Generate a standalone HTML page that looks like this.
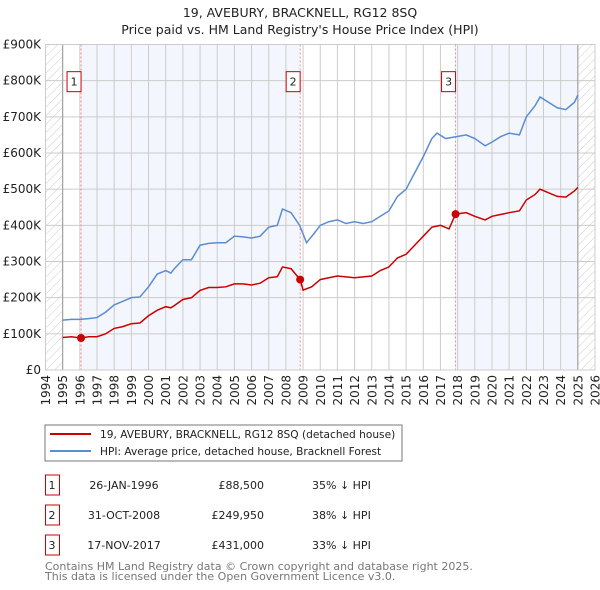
<!DOCTYPE html>
<html><head><meta charset="utf-8"><style>
body{margin:0;background:#fff;width:600px;height:590px;overflow:hidden;font-family:"DejaVu Sans","Liberation Sans",sans-serif}
svg{position:absolute;left:0;top:0}
</style></head><body>
<svg id="c" width="600" height="590" font-family="DejaVu Sans, Liberation Sans, sans-serif">
<defs><pattern id="hatch" width="6" height="6" patternUnits="userSpaceOnUse" patternTransform="rotate(45)"><line x1="0" y1="0" x2="0" y2="6" stroke="#ccc" stroke-width="1"/></pattern></defs>
<text x="300" y="17" text-anchor="middle" font-size="12.5" fill="#222">19, AVEBURY, BRACKNELL, RG12 8SQ</text>
<text x="300" y="34" text-anchor="middle" font-size="12.5" fill="#222">Price paid vs. HM Land Registry's House Price Index (HPI)</text>
<g id="plot"></g>
<rect x="45" y="425" width="357" height="36" fill="#fff" stroke="#777"/>
<line x1="50" y1="434" x2="91" y2="434" stroke="#cc0000" stroke-width="2"/>
<text x="100" y="438" font-size="10.6" fill="#222">19, AVEBURY, BRACKNELL, RG12 8SQ (detached house)</text>
<line x1="50" y1="451" x2="91" y2="451" stroke="#5b8dd0" stroke-width="2"/>
<text x="100" y="455" font-size="10.6" fill="#222">HPI: Average price, detached house, Bracknell Forest</text>
<g id="table" font-size="11" fill="#222"></g>
<text x="45" y="570" font-size="11" fill="#777">Contains HM Land Registry data © Crown copyright and database right 2025.</text>
<text x="45" y="580" font-size="11" fill="#777">This data is licensed under the Open Government Licence v3.0.</text>
</svg>
<script>
const yearTicks=[1994,1995,1996,1997,1998,1999,2000,2001,2002,2003,2004,2005,2006,2007,2008,2009,2010,2011,2012,2013,2014,2015,2016,2017,2018,2019,2020,2021,2022,2023,2024,2025,2026];
const priceTicks=[0,100,200,300,400,500,600,700,800,900];
const priceLabels=["£0","£100K","£200K","£300K","£400K","£500K","£600K","£700K","£800K","£900K"];
const hpiYears=[1995,1995.5,1996,1996.5,1997,1997.5,1998,1998.5,1999,1999.5,2000,2000.5,2001,2001.3,2001.5,2002,2002.5,2003,2003.5,2004,2004.5,2005,2005.5,2006,2006.5,2007,2007.5,2007.8,2008.3,2008.8,2009.2,2009.6,2010,2010.5,2011,2011.5,2012,2012.5,2013,2013.5,2014,2014.5,2015,2015.5,2016,2016.5,2016.8,2017.3,2017.9,2018.5,2019,2019.6,2020,2020.5,2021,2021.6,2022,2022.5,2022.8,2023.3,2023.8,2024.3,2024.8,2025];
const hpiValues=[138,140,140,142,145,160,180,190,200,202,230,265,275,268,280,305,305,345,350,352,352,370,368,365,370,395,400,445,435,400,352,375,400,410,415,405,410,405,410,425,440,480,500,545,590,640,655,640,645,650,640,620,630,645,655,650,700,730,755,740,725,720,740,760];
const ppYears=[1995,1995.5,1996.07,1996.5,1997,1997.5,1998,1998.5,1999,1999.5,2000,2000.5,2001,2001.3,2001.5,2002,2002.5,2003,2003.5,2004,2004.5,2005,2005.5,2006,2006.5,2007,2007.5,2007.8,2008.3,2008.83,2009.0,2009.5,2010,2010.5,2011,2012,2013,2013.5,2014,2014.5,2015,2015.5,2016,2016.5,2017,2017.5,2017.88,2018.5,2019,2019.6,2020,2020.5,2021,2021.6,2022,2022.5,2022.8,2023.3,2023.8,2024.3,2024.8,2025];
const ppValues=[90,92,88.5,92,92,100,115,120,128,130,150,165,175,172,178,195,200,220,228,228,230,238,238,235,240,255,258,285,280,250,221,230,250,255,260,255,260,275,285,310,320,345,370,395,400,390,431,435,425,415,425,430,435,440,470,485,500,490,480,478,495,505];
const saleYears=[1996.07,2008.83,2017.88];
const saleValues=[88.5,249.95,431];
const saleLabels=["1","2","3"];
const saleDates=["26-JAN-1996","31-OCT-2008","17-NOV-2017"];
const salePrices=["£88,500","£249,950","£431,000"];
const saleDiffs=["35% ↓ HPI","38% ↓ HPI","33% ↓ HPI"];

const X0=45.5,X1=595,Y0=370,Y1=44.5;
const xs=y=>X0+(y-1994)/(2026-1994)*(X1-X0);
const ys=v=>Y0-(v/900)*(Y0-Y1);
const NS="http://www.w3.org/2000/svg";
const plot=document.getElementById('plot');
function mk(tag,attrs,parent){const e=document.createElementNS(NS,tag);for(const k in attrs)e.setAttribute(k,attrs[k]);(parent||plot).appendChild(e);return e;}

let r;
r=mk('rect',{x:xs(1994),y:Y1,width:xs(1995)-xs(1994),height:Y0-Y1,fill:'url(#hatch)'});


r=mk('rect',{x:xs(2025),y:Y1,width:xs(2026)-xs(2025),height:Y0-Y1,fill:'url(#hatch)'});


r=mk('rect',{x:xs(saleYears[0]),y:Y1,width:xs(saleYears[1])-xs(saleYears[0]),height:Y0-Y1,fill:'#f3f6fd'});


r=mk('rect',{x:xs(saleYears[2]),y:Y1,width:xs(2025)-xs(saleYears[2]),height:Y0-Y1,fill:'#f3f6fd'});



yearTicks.forEach(y=>{
  const l=mk('line',{x1:xs(y),x2:xs(y),y1:Y1,y2:Y0,stroke:'#cccccc'});
  
  
  const t=mk('text',{x:0,y:0,transform:`translate(${xs(y)+4.5},${Y0+5}) rotate(-90)`,'text-anchor':'end','font-size':'12',fill:'#222'});
  t.textContent=y;
  
  
});
priceTicks.forEach((v,i)=>{
  const l=mk('line',{x1:X0,x2:X1,y1:ys(v),y2:ys(v),stroke:'#cccccc'});
  
  
  const t=mk('text',{x:41,y:ys(v)+4,'text-anchor':'end','font-size':'12',fill:'#222'});
  t.textContent=priceLabels[i];
  
  
});
r=mk('line',{x1:xs(1995),x2:xs(1995),y1:Y1,y2:Y0,stroke:'#999'});


r=mk('line',{x1:xs(2025),x2:xs(2025),y1:Y1,y2:Y0,stroke:'#999'});



saleYears.forEach((y,i)=>{
  const l=mk('line',{x1:xs(y),x2:xs(y),y1:Y1,y2:Y0,stroke:'#ee7777','stroke-width':0.8,'stroke-dasharray':'2,2'});
  
  
  const b=mk('rect',{x:xs(y)-14,y:ys(800)-9,width:14,height:20,fill:'#fff',stroke:'#cc0000'});
  
  
  const t=mk('text',{x:xs(y)-7,y:ys(800)+5,'text-anchor':'middle','font-size':'11',fill:'#222'});
  t.textContent=saleLabels[i];
  
  
});

const hp=mk('polyline',{points:hpiYears.map((y,i)=>xs(y)+','+ys(hpiValues[i])).join(' '),fill:'none',stroke:'#5b8dd0','stroke-width':1.5});


const pp=mk('polyline',{points:ppYears.map((y,i)=>xs(y)+','+ys(ppValues[i])).join(' '),fill:'none',stroke:'#cc0000','stroke-width':1.5});


saleYears.forEach((y,i)=>{
  const c=mk('circle',{cx:xs(y),cy:ys(saleValues[i]),r:4,fill:'#cc0000'});
  
  
});
const fr=mk('rect',{x:X0,y:Y1,width:X1-X0,height:Y0-Y1,fill:'none',stroke:'#cccccc'});



const tb=document.getElementById('table');
saleLabels.forEach((s,i)=>{
  const yy=485+i*30;
  const b=mk('rect',{x:45.5,y:yy-10,width:14,height:20,fill:'#fff',stroke:'#cc0000'},tb);
  
  
  const cells=[[52,'middle',s,'table-index-'],[124,'middle',saleDates[i],'table-date-'],[264,'end',salePrices[i],'table-price-'],[312,'start',saleDiffs[i],'table-diff-']];
  cells.forEach(c=>{
    const t=mk('text',{x:c[0],y:yy+4,'text-anchor':c[1]},tb);
    t.textContent=c[2];
    
    
  });
});
</script>
</body></html>
